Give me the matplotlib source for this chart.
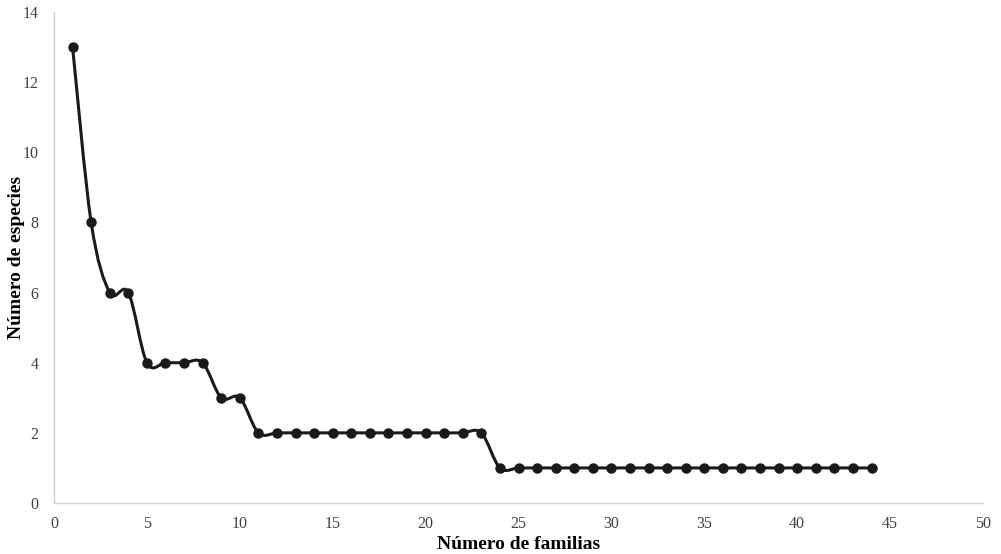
import matplotlib
matplotlib.use("Agg")
import matplotlib.pyplot as plt
import numpy as np
from matplotlib.path import Path
from matplotlib.patches import PathPatch

familias = np.arange(1, 45)
especies = np.array([13, 8, 6, 6, 4, 4, 4, 4, 3, 3] + [2] * 13 + [1] * 21)

plt.rcParams['font.family'] = ['Liberation Serif', 'DejaVu Serif']

fig = plt.figure(figsize=(10.01, 5.54), dpi=100)
ax = fig.add_axes([54 / 1001, 51 / 554, 929 / 1001, 491 / 554])

# smoothed line (Excel-style bezier through the points)
pts = np.column_stack([familias, especies]).astype(float)
verts = [pts[0]]
codes = [Path.MOVETO]
n = len(pts)
for i in range(n - 1):
    p0 = pts[i - 1] if i > 0 else pts[i]
    p1 = pts[i]
    p2 = pts[i + 1]
    p3 = pts[i + 2] if i + 2 < n else pts[i + 1]
    c1 = p1 + (p2 - p0) / 6
    c2 = p2 - (p3 - p1) / 6
    verts += [c1, c2, p2]
    codes += [Path.CURVE4] * 3
ax.add_patch(PathPatch(Path(verts, codes), fill=False, lw=2.2, edgecolor='#1a1a1a', zorder=2))
ax.plot(familias, especies, 'o', color='#1a1a1a', ms=6.5, zorder=3)

ax.set_xlim(0, 50)
ax.set_ylim(0, 14)
ax.set_xticks(range(0, 51, 5))
ax.set_yticks(range(0, 15, 2))
for s in ['top', 'right']:
    ax.spines[s].set_visible(False)
for s in ['left', 'bottom']:
    ax.spines[s].set_color('#d0d0d0')
    ax.spines[s].set_linewidth(1)
ax.tick_params(axis='x', length=0, labelsize=11.5, colors='#404040', pad=9)
ax.tick_params(axis='y', length=0, labelsize=11.5, colors='#404040', pad=11)
ax.set_xlabel('Número de familias', fontsize=14, fontweight='bold')
ax.set_ylabel('Número de especies', fontsize=14, fontweight='bold')
ax.xaxis.set_label_coords(0.5, -0.068)
ax.yaxis.set_label_coords(-0.031, 0.5)

fig.savefig('out.png', dpi=100)
